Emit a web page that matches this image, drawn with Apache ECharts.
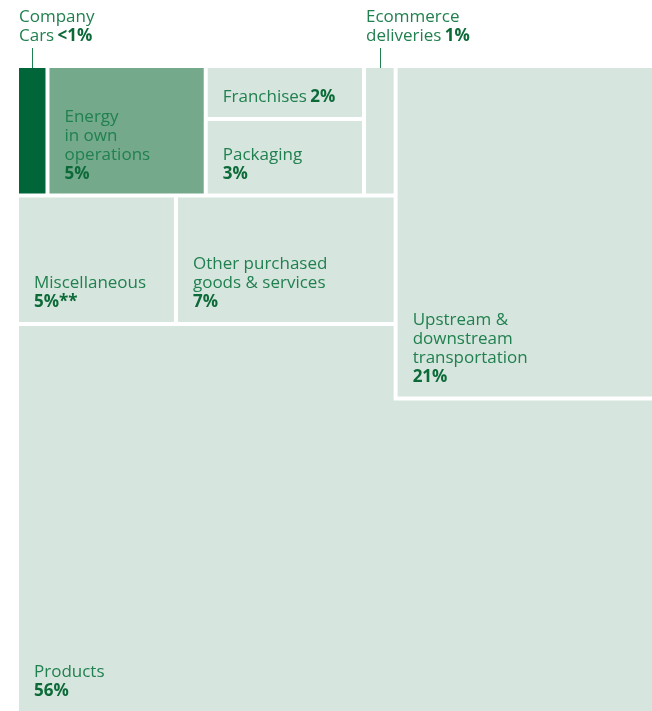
<!DOCTYPE html>
<html>
<head>
<meta charset="utf-8">
<script src="https://cdn.jsdelivr.net/npm/echarts@6/dist/echarts.min.js"></script>
<style>
  html, body { margin: 0; padding: 0; background: #fff; }
  #chart { width: 652px; height: 711px; }
</style>
</head>
<body>
<div id="chart"></div>
<script>
// Emission categories and their share of the total footprint (%)
const categories = [
  'Company Cars',
  'Energy in own operations',
  'Franchises',
  'Packaging',
  'Ecommerce deliveries',
  'Miscellaneous',
  'Other purchased goods & services',
  'Upstream & downstream transportation',
  'Products'
];
const shares = [0.9, 5, 2, 3, 1, 5, 7, 21, 56];
const shareLabels = ['<1%', '5%', '2%', '3%', '1%', '5%**', '7%', '21%', '56%'];

// How each name is wrapped on screen
const displayNames = [
  'Company\nCars',
  'Energy\nin own\noperations',
  'Franchises',
  'Packaging',
  'Ecommerce\ndeliveries',
  'Miscellaneous',
  'Other purchased\ngoods & services',
  'Upstream &\ndownstream\ntransportation',
  'Products'
];
// Labels whose percentage sits on the last name line
const inlinePct = new Set([0, 2, 4]);
// Labels placed above the block with a leader line
const calloutIdx = new Set([0, 4]);

// Block arrangement: rows of the left column, each a list of stacks
const ROW_TOP = [[0], [1], [2, 3], [4]];
const ROW_MID = [[5], [6]];
const UPSTREAM_IDX = 7;
const PRODUCTS_IDX = 8;
const UPSTREAM_COL = 0.405;   // width share of the right-hand column

const FONT = '"Open Sans", "Noto Sans", sans-serif';
const NAME_COLOR = '#21804f';
const PCT_COLOR = '#0b6a38';
const LIGHT = '#d6e5de';
const MID = '#74a98b';
const DARK = '#00663a';
const GAP = 2;      // half of the white gap between blocks
const PAD_X = 15;
const PAD_B = 10;

function fillFor(i) {
  if (i === 0) return DARK;
  if (i === 1) return MID;
  return LIGHT;
}

// Area-proportional layout in unit coordinates (y grows downward)
function computeLayout() {
  const total = shares.reduce((a, b) => a + b, 0);
  const frac = shares.map(v => v / total);
  const cells = [];
  const leftW = 1 - UPSTREAM_COL;
  let y = 0;
  [ROW_TOP, ROW_MID].forEach(row => {
    const rowSum = row.flat().reduce((s, i) => s + frac[i], 0);
    const h = rowSum / leftW;
    let x = 0;
    row.forEach(stack => {
      const stackSum = stack.reduce((s, i) => s + frac[i], 0);
      const w = stackSum / h;
      let yy = y;
      stack.forEach(i => {
        const hh = frac[i] / w;
        cells[i] = { rect: [x, yy, x + w, yy + hh] };
        yy += hh;
      });
      x += w;
    });
    y += h;
  });
  const upH = frac[UPSTREAM_IDX] / UPSTREAM_COL;
  cells[UPSTREAM_IDX] = { rect: [leftW, 0, 1, upH] };
  // Products fills the remaining L-shaped area
  cells[PRODUCTS_IDX] = {
    poly: [[0, y], [leftW, y], [leftW, upH], [1, upH], [1, 1], [0, 1]],
    rect: [0, y, 1, 1]
  };
  return cells;
}
const cells = computeLayout();

function labelText(i) {
  const lines = displayNames[i].split('\n').map(l => '{n|' + l + '}');
  if (inlinePct.has(i)) {
    lines[lines.length - 1] += ' {b|' + shareLabels[i] + '}';
  } else {
    lines.push('{b|' + shareLabels[i] + '}');
  }
  return lines.join('\n');
}

const rich = {
  n: { fontFamily: FONT, fontSize: 17, lineHeight: 19, fill: NAME_COLOR, fontWeight: 'normal' },
  b: { fontFamily: FONT, fontSize: 17, lineHeight: 19, fill: PCT_COLOR, fontWeight: 'bold' }
};

// interior edges are pulled in to leave a white gap; outer edges stay flush
const inner = v => v > 1e-9 && v < 1 - 1e-9;

function renderItem(params, api) {
  const i = api.value(0);
  const c = cells[i];
  const r = c.rect;
  const p0 = api.coord([r[0], r[1]]);
  const p1 = api.coord([r[2], r[3]]);
  const x0 = p0[0] + (inner(r[0]) ? GAP : 0);
  const y0 = p0[1] + (inner(r[1]) ? GAP : 0);
  const x1 = p1[0] - (inner(r[2]) ? GAP : 0);
  const y1 = p1[1] - (inner(r[3]) ? GAP : 0);
  const children = [];
  if (c.poly) {
    const pts = c.poly.map(pt => {
      const q = api.coord(pt);
      return [q[0] - (inner(pt[0]) ? GAP : 0), q[1] + (inner(pt[1]) ? GAP : 0)];
    });
    children.push({ type: 'polygon', shape: { points: pts }, style: { fill: fillFor(i) } });
  } else {
    children.push({
      type: 'rect',
      shape: { x: x0, y: y0, width: x1 - x0, height: y1 - y0 },
      style: { fill: fillFor(i) }
    });
  }
  if (calloutIdx.has(i)) {
    const cx = Math.round((x0 + x1) / 2) + 0.5;
    children.push({
      type: 'line',
      shape: { x1: cx, y1: y0 - 20, x2: cx, y2: y0 },
      style: { stroke: NAME_COLOR, lineWidth: 1 }
    });
    children.push({
      type: 'text',
      style: {
        text: labelText(i), rich: rich,
        x: x0, y: y0 - 22, align: 'left', verticalAlign: 'bottom'
      }
    });
  } else {
    children.push({
      type: 'text',
      style: {
        text: labelText(i), rich: rich,
        x: x0 + PAD_X, y: y1 - PAD_B, align: 'left', verticalAlign: 'bottom'
      }
    });
  }
  return { type: 'group', children: children };
}

const chart = echarts.init(document.getElementById('chart'), null, { renderer: 'canvas' });
chart.setOption({
  animation: false,
  backgroundColor: '#ffffff',
  grid: { left: 19, top: 68, right: 0, bottom: 0 },
  xAxis: { type: 'value', min: 0, max: 1, show: false },
  yAxis: { type: 'value', min: 0, max: 1, inverse: true, show: false },
  series: [{
    type: 'custom',
    clip: false,
    renderItem: renderItem,
    data: categories.map((name, i) => ({ name: name, value: [i, shares[i]] }))
  }]
});
</script>
</body>
</html>
